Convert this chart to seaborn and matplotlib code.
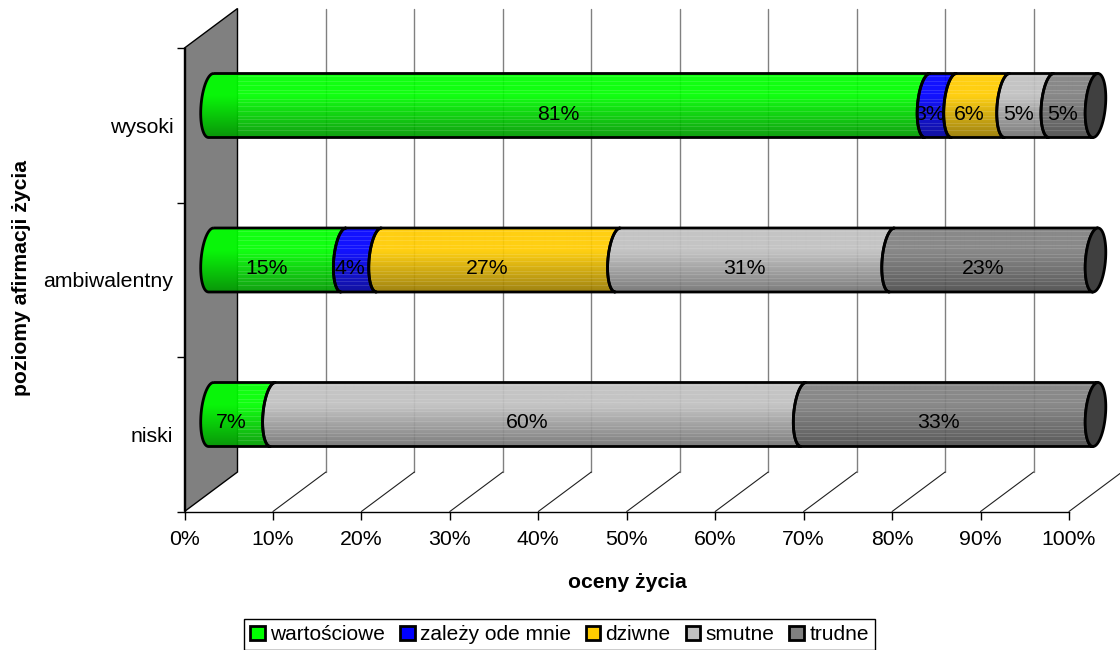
import numpy as np
import matplotlib
matplotlib.use("Agg")
import matplotlib.pyplot as plt
import seaborn as sns
from matplotlib.patches import Patch, PathPatch, Polygon
from matplotlib.path import Path

# --- Data ---
categories = ["wysoki", "ambiwalentny", "niski"]
series_names = ["wartościowe", "zależy ode mnie", "dziwne", "smutne", "trudne"]
wartosciowe = [81, 15, 7]
zalezy = [3, 4, 0]
dziwne = [6, 27, 0]
smutne = [5, 31, 60]
trudne = [5, 23, 33]
x_ticks = [0, 10, 20, 30, 40, 50, 60, 70, 80, 90, 100]
colors = ["#00FF00", "#0000FF", "#FFCC00", "#C0C0C0", "#808080"]

# --- Layout (pixels of the 1120x650 canvas) ---
W, H = 1120, 650
x0_px, x1_px = 184.5, 1069.0
top_px, bot_px = 48.0, 511.5
depth_x_px, depth_y_px = 53.0, 39.5
px_x = (x1_px - x0_px) / 100
px_y = (bot_px - top_px) / 3
depth_x = depth_x_px / px_x
depth_y = depth_y_px / px_y
FS = 15.3

sns.set_style("white")
plt.rcParams["font.family"] = ["Liberation Sans", "DejaVu Sans"]
plt.rcParams["text.color"] = "black"
plt.rcParams["axes.labelcolor"] = "black"
plt.rcParams["xtick.color"] = "black"
plt.rcParams["ytick.color"] = "black"
fig = plt.figure(figsize=(W / 100, H / 100), dpi=100)


def plane_axes(dx, dy):
    return fig.add_axes([(x0_px + dx) / W, 1 - (bot_px - dy) / H,
                         (x1_px - x0_px) / W, (bot_px - top_px) / H])


# --- Front plane: axes, wall and grid ---
ax = plane_axes(0, 0)
ax.set_xlim(0, 100)
ax.set_ylim(2.5, -0.5)
ax.patch.set_alpha(0)
sns.despine(ax=ax)
for s in ["left", "bottom"]:
    ax.spines[s].set_color("black")
    ax.spines[s].set_linewidth(1)

ax.set_xticks(x_ticks)
ax.set_xticklabels([f"{t}%" for t in x_ticks], fontsize=FS)
ax.set_yticks(range(3))
ax.set_yticklabels(categories, fontsize=FS)
ax.set_yticks([-0.5, 0.5, 1.5, 2.5], minor=True)
ax.tick_params(axis="x", bottom=True, length=6, width=1, color="black", pad=7)
ax.tick_params(axis="y", which="major", left=False, length=0, pad=8)
ax.tick_params(axis="y", which="minor", left=True, length=6, width=1, color="black")
ax.set_xlabel("oceny życia", fontsize=15.2, fontweight="bold")
ax.xaxis.set_label_coords((627 - x0_px) / (x1_px - x0_px), -(582 - bot_px) / (bot_px - top_px))
ax.xaxis.label.set_verticalalignment("center")
ax.set_ylabel("poziomy afirmacji życia", fontsize=15.2, fontweight="bold")
ax.yaxis.set_label_coords(-(x0_px - 22) / (x1_px - x0_px), (bot_px - 278) / (bot_px - top_px))
ax.yaxis.label.set_verticalalignment("center")

wall = [(0, -0.5), (depth_x, -0.5 - depth_y), (depth_x, 2.5 - depth_y), (0, 2.5)]
ax.add_patch(Polygon(wall, closed=True, facecolor="#808080", edgecolor="black", lw=1,
                     clip_on=False, zorder=1))
for t in x_ticks:
    if t > 0 and t < 100:
        ax.plot([t + depth_x] * 2, [-0.5 - depth_y, 2.5 - depth_y], color="#808080", lw=1,
                clip_on=False, zorder=1)
    if t > 0:
        ax.plot([t, t + depth_x], [2.5, 2.5 - depth_y], color="#202020", lw=0.8,
                clip_on=False, zorder=1)

# --- Middle plane: the cylinders ---
axb = plane_axes(depth_x_px / 2, depth_y_px / 2)
axb.set_zorder(ax.get_zorder() + 1)
axb.patch.set_alpha(0)

values = [wartosciowe, zalezy, dziwne, smutne, trudne]
starts = np.zeros(3)
for name, vals, col in zip(series_names, values, colors):
    sns.barplot(x=vals, y=categories, orient="h", color=col, width=64 / px_y, errorbar=None,
                left=starts, saturation=1, ax=axb)
    starts = starts + np.array(vals)

bars = list(axb.patches)
axb.set_xlim(0, 100)
axb.set_ylim(2.5, -0.5)
axb.axis("off")

a = 10.0 / px_x
skew = 2.5 / px_x
shade_t = np.linspace(0, 1, 64)
shade = np.where(shade_t < 0.35, 1.0, 1.0 - (shade_t - 0.35) / 0.65 * 0.4)
streak_rows = [3, 8, 12, 17, 20, 26, 29, 33, 38, 43, 46, 50, 53, 57]


def arc(xc, yc, b):
    # left half of the tilted end ellipse, going top -> left -> bottom
    t = np.linspace(-np.pi / 2, -3 * np.pi / 2, 30)
    return np.column_stack([xc + a * np.cos(t) - skew * np.sin(t), yc + b * np.sin(t)])


n = len(categories)
for i, bar in enumerate(bars):
    w = bar.get_width()
    x_s, y_s, h = bar.get_x(), bar.get_y(), bar.get_height()
    base = np.array(bar.get_facecolor()[:3])
    bar.set_visible(False)
    if w <= 0:
        continue
    b = h / 2
    yc = y_s + b
    left = arc(x_s, yc, b)
    right = arc(x_s + w, yc, b)[::-1]
    verts = np.vstack([left, right, left[:1]])
    shape = PathPatch(Path(verts), facecolor="none", edgecolor="black", lw=2, zorder=4,
                      clip_on=False, joinstyle="round")
    axb.add_patch(shape)
    img = (base[None, None, :] * shade[:, None, None])
    im = axb.imshow(img, extent=(x_s - 2 * a, x_s + w + 2 * a, y_s + h, y_s), aspect="auto",
                    alpha=0.93, zorder=2, interpolation="bilinear")
    im.set_clip_path(shape)
    im.set_clip_box(fig.bbox)
    # pale streaks only start past the back wall
    streak = np.zeros((64, 1, 4))
    streak[:, :, :3] = 1
    streak[streak_rows, :, 3] = 0.13
    l_st = max(depth_x / 2, x_s - 2 * a)
    if x_s + w + 2 * a > l_st:
        im2 = axb.imshow(streak, extent=(l_st, x_s + w + 2 * a, y_s + h, y_s), aspect="auto",
                         zorder=3, interpolation="nearest")
        im2.set_clip_path(shape)
        im2.set_clip_box(fig.bbox)

# end caps
for i in range(n):
    yc = i
    b = 32 / px_y
    t = np.linspace(0, 2 * np.pi, 80)
    verts = np.column_stack([100 + a * np.cos(t) - skew * np.sin(t), yc + b * np.sin(t)])
    axb.add_patch(PathPatch(Path(verts), facecolor="#404040", edgecolor="black", lw=2, zorder=5,
                            clip_on=False))

# value labels
starts = np.zeros(3)
for vals in values:
    for i, v in enumerate(vals):
        if v > 0:
            axb.annotate(f"{v}%", (starts[i] + v / 2, i), xytext=(-11 * 0.72, -8.5 * 0.72),
                         textcoords="offset points", ha="center", va="center", fontsize=FS,
                         color="black", zorder=6)
    starts = starts + np.array(vals)

axb.set_xlim(0, 100)
axb.set_ylim(2.5, -0.5)

# --- Legend ---
handles = [Patch(facecolor=c, edgecolor="black", lw=2) for c in colors]
leg = fig.legend(handles, series_names, loc="center", bbox_to_anchor=(559.5 / W, 1 - 634.5 / H),
                 ncol=5, fontsize=15, frameon=True, fancybox=False, edgecolor="black",
                 framealpha=1, handlelength=0.7, handleheight=0.65, handletextpad=0.25,
                 columnspacing=0.72, borderpad=0.3, borderaxespad=0)
leg.get_frame().set_linewidth(1)

fig.savefig("out.png", dpi=100)
